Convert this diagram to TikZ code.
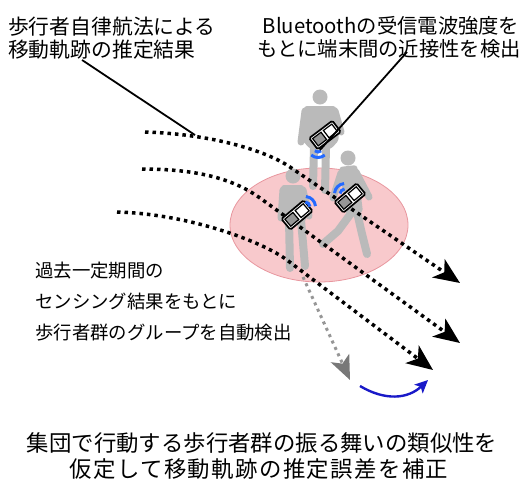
\documentclass[tikz,border=0pt]{standalone}
\usepackage{fontspec}
\setmainfont{Noto Sans CJK JP}
\usetikzlibrary{arrows.meta}
\definecolor{groupfill}{RGB}{248,201,204}
\definecolor{groupedge}{RGB}{232,150,158}
\definecolor{walker}{RGB}{186,186,186}
\definecolor{ghostdot}{RGB}{150,150,150}
\definecolor{ghosthead}{RGB}{120,120,120}
\definecolor{radio}{RGB}{35,105,255}
\definecolor{fixblue}{RGB}{25,25,200}
\definecolor{screen}{RGB}{150,150,150}

\tikzset{
  handset/.pic={
    \draw[line width=1.7pt, fill=white, rounded corners=1.5pt] (-14.5,-7) rectangle (14.5,7);
    \draw[line width=1.2pt, fill=screen] (-12,-4.6) rectangle (-1.5,4.6);
    \draw[line width=1.2pt] (1.5,-4.6) rectangle (12,4.6);
  },
  signal/.pic={
    \draw[radio, line width=3pt] (-40:5) arc[start angle=-40, end angle=40, radius=5];
    \draw[radio, line width=3pt] (-40:10.5) arc[start angle=-40, end angle=40, radius=10.5];
  }
}

\begin{document}
\begin{tikzpicture}[x=1pt, y=-1pt,
  track/.style={line width=3.5pt, dash pattern=on 3.5pt off 4pt,
    -{Stealth[length=26pt, width=22pt, inset=7pt]}},
  ghosttrack/.style={ghostdot, line width=3pt, dash pattern=on 3pt off 4pt,
    -{Stealth[length=24pt, width=20pt, inset=6pt, color=ghosthead]}},
  leader/.style={line width=1.8pt},
  limb/.style={walker, line width=7pt, line cap=round, line join=round},
  torso/.style={fill=walker, rounded corners=3pt},
  caption/.style={inner sep=0pt}
]
\useasboundingbox (0,0) rectangle (526,480);

% group area
\draw[groupedge, fill=groupfill, line width=0.8pt] (319,225) ellipse [x radius=89, y radius=57];

% walker at the back
\fill[walker] (320,97) circle (7.5);
\fill[torso] (304,106) -- (336,106) -- (339,140) -- (331,149) -- (310,149) -- (302,140) -- cycle;
\draw[limb] (305,111) -- (301,142);
\draw[limb] (335,111) -- (341,132);
\draw[limb, line width=8pt] (314,147) -- (313,186);
\draw[limb, line width=8pt] (326,147) -- (325,190);

% walker on the left
\fill[walker] (293,176) circle (7.5);
\fill[torso] (281,185) -- (304,185) -- (306,222) -- (283,222) -- cycle;
\draw[limb] (283,190) -- (281,218);
\draw[limb] (303,190) -- (309,216);
\draw[limb, line width=8pt] (289,220) -- (290,268);
\draw[limb, line width=8pt] (301,220) -- (305,266);

% walker striding to the right
\fill[walker] (348,158) circle (7.5);
\fill[torso] (339,167) -- (357,165) -- (363,212) -- (347,217) -- cycle;
\draw[limb] (341,173) -- (333,198);
\draw[limb] (356,172) -- (369,197);
\draw[limb, line width=8pt] (352,212) -- (338,231) -- (323,244);
\draw[limb, line width=8pt] (357,212) -- (362,234) -- (367,254);

% estimated trajectories
\coordinate (a0) at (145,132); \coordinate (a1) at (290,167); \coordinate (a2) at (460,283);
\coordinate (b0) at (142,169); \coordinate (b1) at (260,198); \coordinate (b2) at (460,343);
\coordinate (c0) at (117,212); \coordinate (c1) at (287,260); \coordinate (c2) at (433,370);
\draw[track] (a0) .. controls (210,134) and (265,150) .. (a1) -- (a2);
\draw[track] (b0) .. controls (200,169) and (235,180) .. (b1) -- (b2);
\draw[track] (c0) .. controls (190,214) and (263,242) .. (c1) -- (c2);

% deviating trajectory and its correction
\coordinate (g0) at (303,277); \coordinate (g1) at (350,380);
\draw[ghosttrack] (g0) -- (g1);
\coordinate (f0) at (360,386); \coordinate (f1) at (428,380);
\draw[fixblue, line width=2.4pt, -{Stealth[length=13pt, width=12pt, inset=3pt]}]
  (f0) .. controls (385,401) and (408,399) .. (f1);

% handsets and radio signals
\pic[rotate=37] at (325,135) {handset};
\pic[rotate=40] at (297,215) {handset};
\pic[rotate=40] at (350,198) {handset};
\pic[rotate=-90] at (318,147) {signal};
\pic[rotate=45] at (305,207) {signal};
\pic[rotate=135] at (345,194) {signal};

% captions
\node[caption, anchor=base west, font=\fontsize{20.8}{25}\selectfont] (pdr1) at (8,34) {歩行者自律航法による};
\node[caption, anchor=base west, font=\fontsize{20.8}{25}\selectfont] (pdr2) at (8,57) {移動軌跡の推定結果};
\node[caption, anchor=base, font=\fontsize{20.3}{25}\selectfont] (bt1) at (391,33) {Bluetoothの受信電波強度を};
\node[caption, anchor=base, font=\fontsize{20.3}{25}\selectfont] (bt2) at (389,56) {もとに端末間の近接性を検出};
\node[caption, anchor=base west, font=\fontsize{18.4}{22}\selectfont] (grp1) at (35,277) {過去一定期間の};
\node[caption, anchor=base west, font=\fontsize{18.4}{22}\selectfont] (grp2) at (35,308) {センシング結果をもとに};
\node[caption, anchor=base west, font=\fontsize{18.4}{22}\selectfont] (grp3) at (35,339) {歩行者群のグループを自動検出};
\node[caption, anchor=base, font=\fontsize{22.4}{27}\selectfont] (fix1) at (262,451) {集団で行動する歩行者群の振る舞いの類似性を};
\node[caption, anchor=base, font=\fontsize{22.4}{27}\selectfont\addfontfeature{LetterSpace=6.2}] (fix2) at (259,477) {仮定して移動軌跡の推定誤差を補正};

% leader lines
\coordinate (la0) at (82,60); \coordinate (la1) at (195,135);
\coordinate (lb0) at (407,52); \coordinate (lb1) at (320,150);
\draw[leader] (la0) -- (la1);
\draw[leader] (lb0) -- (lb1);
\end{tikzpicture}
\end{document}
